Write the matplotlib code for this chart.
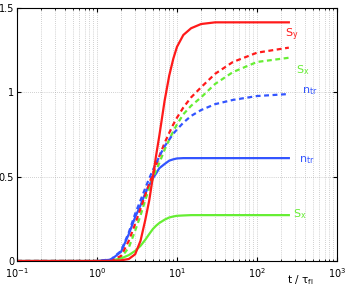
import matplotlib
matplotlib.use("Agg")
import matplotlib.pyplot as plt
from matplotlib.ticker import LogLocator, FixedLocator

plt.rcParams['font.family'] = ['DejaVu Sans']
plt.rcParams['mathtext.default'] = 'regular'

t = [0.1, 1.0, 1.5, 2.0, 2.5, 3.0, 3.5, 4.0, 4.5, 5.0, 5.5, 6.0, 7.0, 8.0, 9.0,
     10, 12, 15, 20, 30, 50, 100, 250]

sy_solid = [0, 0, 0.001, 0.004, 0.012, 0.04, 0.12, 0.24, 0.36, 0.50, 0.63, 0.74,
            0.95, 1.10, 1.20, 1.27, 1.34, 1.38, 1.405, 1.415, 1.415, 1.415, 1.415]
sy_dash = [0, 0, 0.003, 0.03, 0.12, 0.22, 0.31, 0.39, 0.46, 0.52, 0.57, 0.62,
           0.70, 0.76, 0.81, 0.85, 0.91, 0.97, 1.03, 1.11, 1.18, 1.235, 1.265]
sx_dash = [0, 0, 0.002, 0.02, 0.08, 0.18, 0.27, 0.36, 0.43, 0.49, 0.54, 0.58,
           0.66, 0.72, 0.77, 0.81, 0.87, 0.92, 0.97, 1.05, 1.12, 1.18, 1.205]
ntr_dash = [0, 0, 0.01, 0.06, 0.17, 0.28, 0.36, 0.43, 0.49, 0.54, 0.58, 0.62,
            0.68, 0.72, 0.755, 0.78, 0.82, 0.86, 0.895, 0.93, 0.955, 0.978, 0.99]
ntr_solid = [0, 0, 0.008, 0.055, 0.16, 0.26, 0.33, 0.40, 0.45, 0.49, 0.52, 0.55,
             0.575, 0.595, 0.603, 0.608, 0.61, 0.61, 0.61, 0.61, 0.61, 0.61, 0.61]
sx_solid = [0, 0, 0.003, 0.015, 0.035, 0.06, 0.09, 0.125, 0.16, 0.19, 0.21, 0.225,
            0.245, 0.258, 0.264, 0.268, 0.27, 0.272, 0.272, 0.272, 0.272, 0.272, 0.272]

yticks = [0, 0.5, 1, 1.5]
ytick_labels = ['0', '0.5', '1', '1.5']

RED = '#ff1a1a'
GREEN = '#66ee33'
BLUE = '#3355ff'

fig = plt.figure(figsize=(3.47, 2.91), dpi=100)
ax = fig.add_axes([17/347, 30/291, 320/347, 253/291])

lw = 1.6
dash = (0, (2.2, 1.6))
ax.plot(t, sx_solid, color=GREEN, lw=lw)
ax.plot(t, ntr_solid, color=BLUE, lw=lw)
ax.plot(t, sx_dash, color=GREEN, lw=lw, linestyle=dash)
ax.plot(t, sy_dash, color=RED, lw=lw, linestyle=dash)
ax.plot(t, ntr_dash, color=BLUE, lw=lw, linestyle=dash)
ax.plot(t, sy_solid, color=RED, lw=lw)

ax.set_xscale('log')
ax.set_xlim(0.1, 1000)
ax.set_ylim(0, 1.5)
ax.yaxis.set_major_locator(FixedLocator(yticks))
ax.set_yticklabels(ytick_labels)
ax.xaxis.set_minor_locator(LogLocator(base=10, subs=range(2, 10)))

ax.grid(True, which='major', axis='both', linestyle=(0, (1, 2)), color='0.65', lw=0.5)
ax.grid(True, which='minor', axis='x', linestyle=(0, (1, 2)), color='0.65', lw=0.5)
ax.tick_params(which='both', direction='in', top=True, right=True, labelsize=7)
ax.tick_params(axis='x', pad=3.5)
ax.tick_params(axis='y', pad=2)
ax.tick_params(which='major', length=3)
ax.tick_params(which='minor', length=1.5)
for s in ax.spines.values():
    s.set_linewidth(0.8)

fs = 8
ax.text(225, 1.34, '$S_y$', color=RED, fontsize=fs, ha='left', va='center')
ax.text(305, 1.13, '$S_x$', color=GREEN, fontsize=fs, ha='left', va='center')
ax.text(365, 1.01, '$n_{tr}$', color=BLUE, fontsize=fs, ha='left', va='center')
ax.text(335, 0.60, '$n_{tr}$', color=BLUE, fontsize=fs, ha='left', va='center')
ax.text(282, 0.28, '$S_x$', color=GREEN, fontsize=fs, ha='left', va='center')

ax.text(0.884, -0.075, r'$t\ /\ \tau_{fl}$', transform=ax.transAxes,
        fontsize=7.5, ha='center', va='center')

fig.savefig('out.png', dpi=100)
